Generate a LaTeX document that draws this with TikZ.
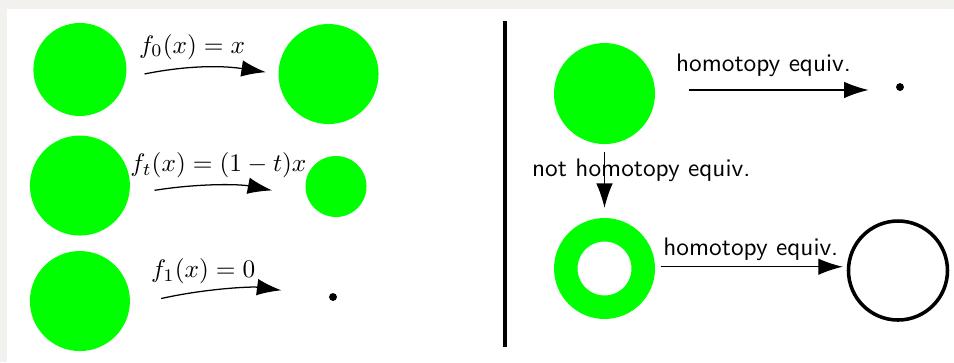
\documentclass[tikz,border=0pt]{standalone}
\usepackage{amsmath,amssymb}
\usetikzlibrary{arrows.meta}
\definecolor{pagegray}{RGB}{242,241,237}
\definecolor{blob}{RGB}{0,255,0}

\begin{document}
\begin{tikzpicture}[
    disk/.style={circle, fill=blob, inner sep=0pt},
    ring/.style={circle, draw=blob, line width=0.326cm, inner sep=0pt,
                 minimum size=1.076cm},
    loop/.style={circle, draw=black, line width=1.4pt, inner sep=0pt,
                 minimum size=1.375cm},
    pnt/.style={circle, fill=black, inner sep=0pt, minimum size=1.1mm},
    map/.style={-{Latex[length=3.4mm,width=2.3mm]}, line width=0.5pt},
    lab/.style={font=\sffamily}]
  % page box with the grey strip on top and left
  \useasboundingbox (0,0) rectangle (13.25,5.028);
  \fill[pagegray] (0,0) rectangle (13.25,5.028);
  \fill[white] (0.097,0) rectangle (13.25,4.903);
  % --- left: shrinking the disk to a point ---------------------------------
  \foreach \i/\y/\s in {0/4.063/1.292, 1/2.451/1.389, 2/0.847/1.389} {
    \node[disk, minimum size=\s cm] (L\i) at (1.11,\y) {}; }
  \node[disk, minimum size=1.389cm] (R0) at (4.563,4.000) {};
  \node[disk, minimum size=0.847cm] (R1) at (4.667,2.438) {};
  \node[pnt] (dotL) at (4.625,0.903) {};
  \draw[map, shorten <=0.26cm, shorten >=0.17cm]
    (L0.-10) to[bend left=10] node[above, pos=0.43] {$f_0(x)=x$} (R0.west);
  \draw[map, shorten <=0.35cm, shorten >=0.49cm]
    (L1.-10) to[bend left=10] node[above, pos=0.5] {$f_t(x)=(1-t)x$} (R1.200);
  \draw[map, shorten <=0.44cm, shorten >=0.66cm]
    (L2.-5) to[bend left=10] node[above, pos=0.36] {$f_1(x)=0$} (dotL);
  % --- divider -------------------------------------------------------------
  \draw[line width=1.6pt] (7.014,4.736) -- (7.014,0.208);
  % --- right: disk, point, annulus, circle ---------------------------------
  \node[disk, minimum size=1.403cm] (D) at (8.396,3.729) {};
  \node[pnt] (pt) at (12.5,3.819) {};
  \node[ring] (A) at (8.396,1.299) {};
  \node[loop] (C) at (12.472,1.271) {};
  \draw[map, shorten <=0.46cm, shorten >=0.375cm]
    (D.4) -- node[lab, above=1.5pt, pos=0.45] {homotopy equiv.} (D.4 -| pt.west);
  \draw[map, shorten <=0.1cm, shorten >=0.14cm]
    (D) -- node[lab, pos=0.35, xshift=0.51cm] {not homotopy equiv.} (A);
  \draw[map, shorten <=0.08cm, shorten >=0.055cm]
    (A.2) -- node[lab, above=-1.2pt] {homotopy equiv.} (A.2 -| C.west);
\end{tikzpicture}
\end{document}
